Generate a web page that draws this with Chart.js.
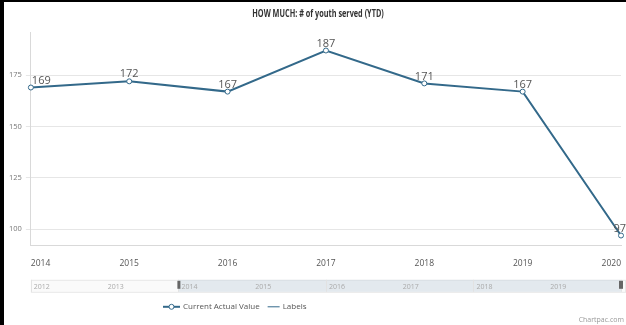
<!DOCTYPE html>
<html>
<head>
<meta charset="utf-8">
<script src="https://cdn.jsdelivr.net/npm/chart.js@4.4.1/dist/chart.umd.min.js"></script>
<style>
  html, body { margin: 0; padding: 0; background: #fff; }
  #wrap {
    position: absolute; left: 0; top: 0;
    width: 622px; height: 323px;
    border-left: 4px solid #000; border-top: 2px solid #000;
    background: #fff;
  }
  canvas { display: block; }
</style>
</head>
<body>
<div id="wrap"><canvas id="chart" width="622" height="323"></canvas></div>
<script>
// Data
const years = ["2014", "2015", "2016", "2017", "2018", "2019", "2020"];
const actualValues = [169, 172, 167, 187, 171, 167, 97];
const yTickValues = [100, 125, 150, 175];
const navYears = [2012, 2013, 2014, 2015, 2016, 2017, 2018, 2019, 2020];
const navSelected = [2014, 2020];

const titleText = "HOW MUCH: # of youth served (YTD)";
const creditText = "Chartpac.com";

const lineColor = "#33698a";
const narrow = "'Liberation Sans Narrow', 'Open Sans', sans-serif";

// draw text squeezed horizontally, the original uses a condensed face
function condensedText(c, txt, x, y, squeeze) {
    c.save();
    c.translate(x, y);
    c.scale(squeeze, 1);
    c.fillText(txt, 0, 0);
    c.restore();
}

const ctx = document.getElementById("chart").getContext("2d");

const chart = new Chart(ctx, {
    type: "line",
    data: {
        labels: years,
        datasets: [{
            label: "Current Actual Value",
            data: actualValues,
            borderColor: lineColor,
            backgroundColor: "#fff",
            borderWidth: 2,
            pointRadius: 2.5,
            pointBorderWidth: 1,
            pointBackgroundColor: "#fff",
            pointBorderColor: lineColor,
            tension: 0
        }, {
            label: "Labels",
            data: [],
            borderColor: lineColor,
            borderWidth: 1,
            pointRadius: 0
        }]
    },
    options: {
        responsive: false,
        animation: false,
        layout: {
            padding: { left: 1, right: 0, top: 0, bottom: 51 }
        },
        scales: {
            x: {
                type: "category",
                offset: false,
                grid: { display: false },
                border: { display: true, color: "#d9d9d9" },
                ticks: {
                    color: "#555",
                    font: { size: 8.5, family: narrow },
                    align: "inner",
                    maxRotation: 0,
                    autoSkip: false,
                    padding: 5
                }
            },
            y: {
                min: 92,
                max: 196,
                afterBuildTicks: function(scale) {
                    scale.ticks = yTickValues.map(function(v) { return { value: v }; });
                },
                grid: {
                    color: "#e6e6e6",
                    tickLength: 5,
                    drawTicks: true
                },
                border: { display: true, color: "#d9d9d9" },
                ticks: {
                    color: "#777",
                    font: { size: 7.5, family: narrow },
                    padding: 4
                }
            }
        },
        plugins: {
            legend: { display: false },
            tooltip: { enabled: false },
            title: {
                display: true,
                text: titleText,
                color: "rgba(0,0,0,0)",
                font: { size: 10, weight: "bold", family: narrow },
                padding: { top: 6, bottom: 12 }
            }
        }
    },
    plugins: [{
        id: "extras",
        afterDatasetsDraw: function(chart) {
            const c = chart.ctx;
            const area = chart.chartArea;
            const meta = chart.getDatasetMeta(0);
            c.save();
            c.font = "11px 'Open Sans', sans-serif";
            c.fillStyle = "#555";
            c.textAlign = "center";
            c.textBaseline = "middle";
            meta.data.forEach(function(pt, i) {
                const txt = String(actualValues[i]);
                const w = c.measureText(txt).width;
                let x = Math.max(pt.x, area.left + w / 2 + 1);
                x = Math.min(x, chart.width - w / 2);
                c.fillText(txt, x, pt.y - 7);
            });
            c.restore();
        },
        afterDraw: function(chart) {
            const c = chart.ctx;
            const area = chart.chartArea;
            const first = navYears[0], last = navYears[navYears.length - 1];
            const toX = function(yr) {
                return area.left + (yr - first) / (last - first) * (area.right - area.left);
            };
            c.save();

            // Title (condensed)
            const tb = chart.titleBlock;
            c.font = "bold 10px 'Open Sans', sans-serif";
            c.fillStyle = "#333";
            c.textAlign = "center";
            c.textBaseline = "middle";
            condensedText(c, titleText, chart.width / 2 + 3, tb.top + 6 + 6, 0.73);

            // Navigator
            const navTop = area.bottom + 34;
            const navH = 12;
            c.fillStyle = "#fafafa";
            c.fillRect(area.left, navTop, area.right - area.left + 4, navH);
            c.strokeStyle = "#e8e8e8";
            c.lineWidth = 1;
            c.strokeRect(area.left + 0.5, navTop + 0.5, area.right - area.left + 4, navH);

            const selL = toX(navSelected[0]), selR = toX(navSelected[1]);
            c.fillStyle = "rgba(200, 212, 224, 0.45)";
            c.fillRect(selL, navTop, selR - selL, navH);

            // vertical grid lines every two years
            c.strokeStyle = "#e2e2e2";
            navYears.forEach(function(yr) {
                if (yr % 2 === 0) {
                    const x = Math.round(toX(yr)) + 0.5;
                    c.beginPath();
                    c.moveTo(x, navTop);
                    c.lineTo(x, navTop + navH);
                    c.stroke();
                }
            });

            c.font = "7px " + narrow;
            c.fillStyle = "#aaa";
            c.textAlign = "left";
            c.textBaseline = "middle";
            navYears.slice(0, -1).forEach(function(yr) {
                c.fillText(String(yr), toX(yr) + 3, navTop + navH / 2 + 1);
            });

            // handles
            c.fillStyle = "#666";
            c.fillRect(selL - 1, navTop + 1, 3, 8);
            c.fillRect(selR - 2, navTop + 1, 4, 8);

            // Legend
            const legY = navTop + 27;
            c.font = "8px " + narrow;
            c.textBaseline = "middle";
            let lx = 159;
            chart.data.datasets.forEach(function(ds, i) {
                const iconW = i === 0 ? 17 : 12;
                c.strokeStyle = ds.borderColor;
                c.lineWidth = ds.borderWidth;
                c.beginPath();
                c.moveTo(lx, legY);
                c.lineTo(lx + iconW, legY);
                c.stroke();
                if (i === 0) {
                    c.fillStyle = "#fff";
                    c.lineWidth = 1;
                    c.beginPath();
                    c.arc(lx + iconW / 2, legY, 2.5, 0, Math.PI * 2);
                    c.fill();
                    c.stroke();
                }
                c.fillStyle = "#555";
                c.fillText(ds.label, lx + iconW + 3, legY);
                lx += iconW + 3 + c.measureText(ds.label).width + 8;
            });

            // Credits
            c.font = "7px " + narrow;
            c.fillStyle = "#999";
            c.textAlign = "right";
            c.fillText(creditText, chart.width - 2, chart.height - 5);

            c.restore();
        }
    }]
});
</script>
</body>
</html>
